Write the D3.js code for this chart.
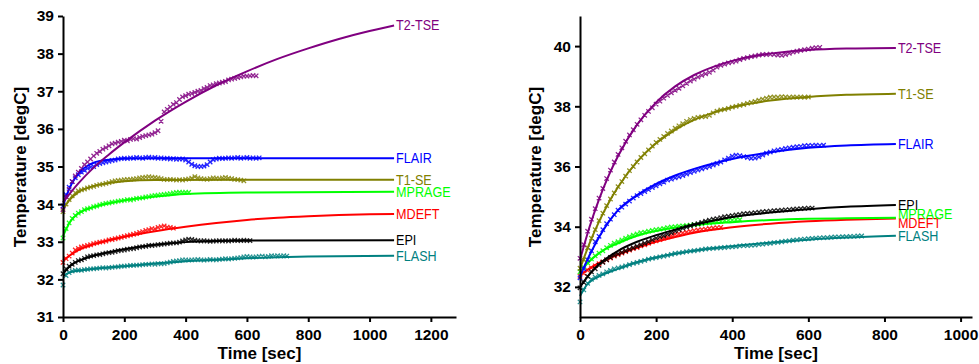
<!DOCTYPE html>
<html>
<head>
<meta charset="utf-8">
<script src="https://cdn.jsdelivr.net/npm/d3@7"></script>
<style>
  html, body { margin: 0; padding: 0; background: #fff; }
  svg { display: block; font-family: 'Liberation Sans', Arial, sans-serif; }
</style>
</head>
<body>
<svg id="chart" width="979" height="364"></svg>
<script>
// --- data ---
const SAMPLE_STEP = 10; // seconds between logged samples

const xTicksLeft = [0, 200, 400, 600, 800, 1000, 1200];
const yTicksLeft = [31, 32, 33, 34, 35, 36, 37, 38, 39];
const xTicksRight = [0, 200, 400, 600, 800, 1000];
const yTicksRight = [32, 34, 36, 38, 40];

// left panel: measured samples (degC), one every SAMPLE_STEP sec from t=0
const leftMeasT2 = [33.85,34.2,34.4,34.6,34.75,34.85,34.95,35.05,35.12,35.2,35.28,35.35,35.4,35.46,35.5,35.55,35.6,35.62,35.65,35.67,35.7,35.68,35.72,35.74,35.73,35.77,35.8,35.82,35.84,35.86,35.9,35.95,36.2,36.45,36.52,36.58,36.65,36.7,36.78,36.85,36.88,36.92,36.94,36.97,37.0,37.02,37.07,37.1,37.15,37.17,37.2,37.22,37.24,37.26,37.3,37.32,37.34,37.36,37.38,37.4,37.4,37.41,37.42,37.41];
const leftMeasFLAIR = [33.95,34.25,34.45,34.6,34.7,34.78,34.85,34.9,34.95,34.98,35.0,35.05,35.08,35.1,35.12,35.14,35.16,35.17,35.2,35.21,35.22,35.21,35.23,35.22,35.24,35.23,35.22,35.24,35.25,35.23,35.24,35.22,35.23,35.21,35.22,35.2,35.21,35.19,35.2,35.2,35.17,35.12,35.06,35.02,35.0,35.0,35.01,35.05,35.12,35.18,35.2,35.22,35.21,35.22,35.23,35.22,35.23,35.24,35.22,35.23,35.24,35.22,35.23,35.22,35.23];
const leftMeasT1 = [33.8,34.0,34.12,34.22,34.3,34.35,34.38,34.4,34.43,34.45,34.47,34.5,34.52,34.53,34.55,34.57,34.6,34.62,34.63,34.64,34.65,34.66,34.66,34.67,34.68,34.7,34.71,34.72,34.73,34.72,34.71,34.7,34.68,34.66,34.65,34.66,34.65,34.64,34.65,34.64,34.66,34.67,34.69,34.73,34.7,34.68,34.67,34.66,34.68,34.7,34.69,34.68,34.7,34.71,34.69,34.68,34.66,34.65,34.64,34.62];
const leftMeasMPRAGE = [33.1,33.35,33.5,33.62,33.7,33.76,33.8,33.85,33.88,33.9,33.93,33.95,33.98,34.0,34.02,34.03,34.05,34.06,34.08,34.09,34.1,34.12,34.11,34.13,34.15,34.16,34.17,34.19,34.2,34.22,34.23,34.24,34.25,34.26,34.27,34.28,34.3,34.31,34.32,34.31,34.32,34.31];
const leftMeasMDEFT = [32.45,32.55,32.62,32.7,32.78,32.82,32.86,32.88,32.9,32.92,32.95,32.97,32.99,33.0,33.02,33.05,33.06,33.08,33.1,33.12,33.14,33.16,33.18,33.2,33.22,33.25,33.27,33.3,33.32,33.35,33.34,33.38,33.4,33.42,33.39,33.38,33.36];
const leftMeasEPI = [32.15,32.28,32.35,32.4,32.45,32.5,32.52,32.56,32.6,32.62,32.63,32.65,32.66,32.68,32.7,32.71,32.72,32.74,32.76,32.77,32.78,32.8,32.81,32.82,32.84,32.86,32.87,32.88,32.9,32.9,32.91,32.92,32.93,32.94,32.95,32.96,32.97,32.97,32.99,33.02,33.05,33.07,33.06,33.04,33.03,33.02,33.03,33.02,33.01,33.02,33.02,33.03,33.02,33.03,33.02,33.03,33.04,33.03,33.03,33.04,33.03,33.03];
const leftMeasFLASH = [31.85,32.1,32.18,32.22,32.24,32.25,32.24,32.26,32.27,32.28,32.28,32.29,32.3,32.31,32.3,32.31,32.32,32.33,32.33,32.35,32.35,32.36,32.37,32.37,32.38,32.38,32.39,32.4,32.4,32.41,32.4,32.42,32.41,32.42,32.44,32.46,32.48,32.49,32.5,32.52,32.52,32.51,32.52,32.52,32.53,32.52,32.51,32.52,32.53,32.52,32.52,32.53,32.54,32.55,32.54,32.55,32.56,32.57,32.58,32.6,32.61,32.6,32.59,32.6,32.61,32.62,32.6,32.61,32.63,32.62,32.63,32.62,32.63,32.62];

// left panel: fitted curves [sec, degC]
const leftFitT2 = [[0,34.05],[50,34.55],[100,34.97],[150,35.32],[200,35.64],[300,36.22],[400,36.72],[500,37.16],[600,37.53],[700,37.86],[800,38.14],[900,38.39],[1000,38.6],[1080,38.75]];
const leftFitFLAIR = [[0,33.95],[20,34.4],[40,34.7],[60,34.9],[80,35.02],[100,35.1],[150,35.18],[200,35.21],[300,35.22],[1080,35.22]];
const leftFitT1 = [[0,33.85],[20,34.1],[50,34.32],[100,34.48],[150,34.56],[200,34.61],[300,34.64],[1080,34.65]];
const leftFitMPRAGE = [[0,33.15],[25,33.55],[50,33.75],[100,33.92],[150,34.02],[200,34.1],[300,34.2],[400,34.27],[600,34.31],[1080,34.33]];
const leftFitMDEFT = [[0,32.5],[50,32.78],[100,32.93],[200,33.13],[300,33.28],[400,33.4],[500,33.5],[600,33.58],[700,33.64],[800,33.68],[900,33.71],[1000,33.73],[1080,33.74]];
const leftFitEPI = [[0,32.15],[30,32.4],[60,32.52],[100,32.63],[150,32.72],[200,32.8],[300,32.92],[400,32.99],[500,33.02],[600,33.03],[1080,33.04]];
const leftFitFLASH = [[0,32.1],[20,32.18],[50,32.23],[100,32.28],[200,32.35],[300,32.42],[400,32.48],[500,32.52],[600,32.56],[700,32.59],[800,32.61],[1080,32.63]];

// right panel: measured samples
const rightMeasT2 = [32.95,33.4,33.85,34.25,34.6,34.95,35.27,35.6,35.88,36.15,36.4,36.62,36.84,37.05,37.22,37.4,37.55,37.7,37.83,37.95,38.07,38.17,38.27,38.36,38.45,38.53,38.6,38.68,38.76,38.84,38.9,38.97,39.03,39.08,39.13,39.2,39.3,39.36,39.4,39.44,39.47,39.5,39.55,39.59,39.62,39.65,39.67,39.7,39.72,39.72,39.73,39.72,39.7,39.69,39.72,39.76,39.8,39.83,39.86,39.88,39.9,39.93,39.95,39.96];
const rightMeasT1 = [32.62,32.9,33.3,33.62,33.9,34.2,34.45,34.7,34.92,35.12,35.33,35.5,35.68,35.86,36.0,36.15,36.3,36.42,36.55,36.68,36.8,36.9,37.0,37.1,37.18,37.27,37.35,37.42,37.5,37.56,37.6,37.63,37.65,37.66,37.7,37.78,37.84,37.88,37.9,37.93,37.97,38.0,38.03,38.06,38.1,38.13,38.16,38.2,38.24,38.27,38.3,38.31,38.3,38.32,38.31,38.3,38.31,38.3,38.31,38.3,38.31];
const rightMeasFLAIR = [32.3,32.6,32.9,33.2,33.5,33.68,33.9,34.1,34.25,34.4,34.55,34.65,34.75,34.85,34.95,35.03,35.1,35.17,35.23,35.3,35.36,35.42,35.48,35.55,35.58,35.62,35.66,35.7,35.75,35.8,35.84,35.88,35.92,35.96,36.0,36.05,36.1,36.15,36.22,36.28,36.34,36.38,36.36,36.33,36.3,36.27,36.28,36.32,36.38,36.44,36.48,36.52,36.55,36.57,36.6,36.62,36.64,36.66,36.67,36.69,36.7,36.7,36.71,36.7,36.71];
const rightMeasEPI = [31.97,32.15,32.35,32.5,32.6,32.72,32.82,32.9,32.98,33.05,33.1,33.15,33.2,33.25,33.3,33.35,33.4,33.45,33.5,33.56,33.62,33.66,33.7,33.75,33.8,33.85,33.9,33.95,33.99,34.03,34.07,34.1,34.14,34.18,34.22,34.25,34.27,34.3,34.33,34.35,34.37,34.39,34.41,34.43,34.44,34.45,34.47,34.48,34.5,34.51,34.52,34.53,34.54,34.55,34.56,34.57,34.58,34.59,34.6,34.61,34.62,34.62];
const rightMeasMPRAGE = [32.5,32.65,32.8,32.93,33.03,33.12,33.2,33.3,33.38,33.45,33.5,33.56,33.62,33.67,33.72,33.76,33.8,33.82,33.85,33.88,33.9,33.92,33.94,33.97,33.99,34.0,34.02,34.03,34.04,34.05,34.07,34.08,34.1,34.12,34.13,34.15,34.17,34.18,34.2,34.21,34.22,34.23,34.23];
const rightMeasMDEFT = [32.35,32.45,32.55,32.63,32.7,32.77,32.83,32.9,32.96,33.02,33.07,33.12,33.17,33.22,33.27,33.31,33.36,33.4,33.45,33.5,33.53,33.57,33.62,33.66,33.7,33.75,33.77,33.79,33.82,33.84,33.87,33.89,33.91,33.92,33.94,33.96,33.97,33.98];
const rightMeasFLASH = [31.5,31.9,32.12,32.25,32.32,32.38,32.43,32.5,32.55,32.6,32.63,32.66,32.7,32.74,32.78,32.81,32.85,32.88,32.92,32.95,32.97,33.0,33.02,33.05,33.08,33.11,33.13,33.15,33.17,33.19,33.2,33.22,33.24,33.26,33.27,33.28,33.29,33.3,33.31,33.32,33.33,33.34,33.36,33.37,33.37,33.38,33.39,33.41,33.42,33.44,33.45,33.47,33.48,33.5,33.52,33.53,33.55,33.56,33.58,33.59,33.6,33.61,33.62,33.63,33.64,33.64,33.65,33.66,33.66,33.67,33.67,33.68,33.68,33.69,33.69];

// right panel: fitted curves
const rightFitT2 = [[0,32.9],[25,33.99],[50,34.91],[75,35.69],[100,36.35],[150,37.39],[200,38.13],[250,38.66],[300,39.04],[350,39.31],[400,39.51],[500,39.75],[600,39.87],[700,39.92],[830,39.94]];
const rightFitT1 = [[0,32.6],[25,33.45],[50,34.17],[75,34.79],[100,35.32],[150,36.16],[200,36.77],[250,37.22],[300,37.55],[350,37.79],[400,37.97],[500,38.19],[600,38.31],[700,38.38],[830,38.42]];
const rightFitFLAIR = [[0,32.35],[25,33.05],[50,33.65],[75,34.15],[100,34.55],[150,35.05],[200,35.42],[250,35.7],[300,35.92],[350,36.1],[400,36.25],[500,36.47],[600,36.62],[700,36.7],[830,36.75]];
const rightFitEPI = [[0,32.0],[25,32.42],[50,32.75],[100,33.2],[150,33.5],[200,33.72],[250,33.9],[300,34.07],[350,34.2],[400,34.32],[500,34.47],[600,34.58],[700,34.66],[830,34.72]];
const rightFitMPRAGE = [[0,32.5],[25,32.85],[50,33.12],[100,33.45],[150,33.7],[200,33.86],[300,34.05],[400,34.15],[500,34.22],[600,34.26],[700,34.28],[830,34.3]];
const rightFitMDEFT = [[0,32.4],[25,32.62],[50,32.8],[100,33.08],[150,33.3],[200,33.5],[250,33.66],[300,33.8],[400,33.98],[500,34.1],[600,34.18],[700,34.23],[830,34.27]];
const rightFitFLASH = [[0,31.7],[20,32.1],[50,32.35],[100,32.6],[150,32.82],[200,32.98],[300,33.2],[400,33.35],[500,33.47],[600,33.57],[700,33.64],[830,33.7]];

// --- styles ---
const colors = {
  'T2-TSE': '#800080', 'FLAIR': '#0000ff', 'T1-SE': '#808000', 'MPRAGE': '#00ff00',
  'MDEFT': '#ff0000', 'EPI': '#000000', 'FLASH': '#008080'
};

const panels = [
  {
    x: d3.scaleLinear().domain([0, 1282]).range([63, 456]),
    y: d3.scaleLinear().domain([31, 39]).range([317, 16]),
    xTicks: xTicksLeft, yTicks: yTicksLeft,
    yTitleX: 26,
    nudge: {},
    series: [
      ['FLASH', leftMeasFLASH, leftFitFLASH], ['EPI', leftMeasEPI, leftFitEPI],
      ['MDEFT', leftMeasMDEFT, leftFitMDEFT], ['MPRAGE', leftMeasMPRAGE, leftFitMPRAGE],
      ['T1-SE', leftMeasT1, leftFitT1], ['FLAIR', leftMeasFLAIR, leftFitFLAIR],
      ['T2-TSE', leftMeasT2, leftFitT2]
    ]
  },
  {
    x: d3.scaleLinear().domain([0, 1030]).range([580, 972]),
    y: d3.scaleLinear().domain([31, 41]).range([317, 16]),
    xTicks: xTicksRight, yTicks: yTicksRight,
    yTitleX: 541,
    nudge: { 'MPRAGE': -4, 'MDEFT': 5 },
    series: [
      ['FLASH', rightMeasFLASH, rightFitFLASH], ['MDEFT', rightMeasMDEFT, rightFitMDEFT],
      ['MPRAGE', rightMeasMPRAGE, rightFitMPRAGE], ['EPI', rightMeasEPI, rightFitEPI],
      ['FLAIR', rightMeasFLAIR, rightFitFLAIR], ['T1-SE', rightMeasT1, rightFitT1],
      ['T2-TSE', rightMeasT2, rightFitT2]
    ]
  }
];

const svg = d3.select('#chart');

panels.forEach(p => {
  const g = svg.append('g');

  // data + fits
  p.series.forEach(([name, meas, fit]) => {
    const c = colors[name];
    const s = 2.2;
    let d = '';
    meas.forEach((v, i) => {
      const px = p.x(i * SAMPLE_STEP), py = p.y(v);
      d += `M${px - s},${py - s}L${px + s},${py + s}M${px - s},${py + s}L${px + s},${py - s}`;
    });
    g.append('path').attr('d', d).attr('fill', 'none')
      .attr('stroke', c).attr('stroke-width', 1.3).attr('opacity', 0.85);

    const line = d3.line().x(d => p.x(d[0])).y(d => p.y(d[1])).curve(d3.curveMonotoneX);
    g.append('path').datum(fit).attr('d', line).attr('fill', 'none')
      .attr('stroke', c).attr('stroke-width', 2);

    const last = fit[fit.length - 1];
    const lx = p.x(last[0]) + 2, ly = p.y(last[1]) + (p.nudge[name] || 0);
    g.append('text').attr('transform', `translate(${lx},${ly}) scale(0.9,1)`)
      .attr('dy', '0.35em').attr('fill', c).style('font-size', '14px').text(name);
  });

  // axes
  const yAxis = g.append('g').attr('transform', `translate(${p.x.range()[0]},0)`)
    .call(d3.axisLeft(p.y).tickValues(p.yTicks).tickFormat(d3.format('d'))
      .tickSize(5).tickSizeOuter(0).tickPadding(4));
  const xAxis = g.append('g').attr('transform', `translate(0,${p.y.range()[0]})`)
    .call(d3.axisBottom(p.x).tickValues(p.xTicks).tickFormat(d3.format('d'))
      .tickSize(5).tickSizeOuter(0).tickPadding(7));
  [yAxis, xAxis].forEach(a => {
    a.select('.domain').attr('stroke', '#000').attr('stroke-width', 2);
    a.selectAll('.tick line').attr('stroke', '#000').attr('stroke-width', 2);
    a.selectAll('.tick text').attr('fill', '#000')
      .style('font-size', '15.5px').style('font-weight', 'bold')
      .style('font-family', "'Liberation Sans', Arial, sans-serif");
  });

  const [x0, x1] = p.x.range();
  g.append('text').attr('x', (x0 + x1) / 2).attr('y', 359).attr('text-anchor', 'middle')
    .style('font-size', '17px').style('font-weight', 'bold').text('Time [sec]');
  g.append('text').attr('transform', `translate(${p.yTitleX},167) rotate(-90)`)
    .attr('text-anchor', 'middle')
    .style('font-size', '17px').style('font-weight', 'bold').text('Temperature [degC]');
});
</script>
</body>
</html>
